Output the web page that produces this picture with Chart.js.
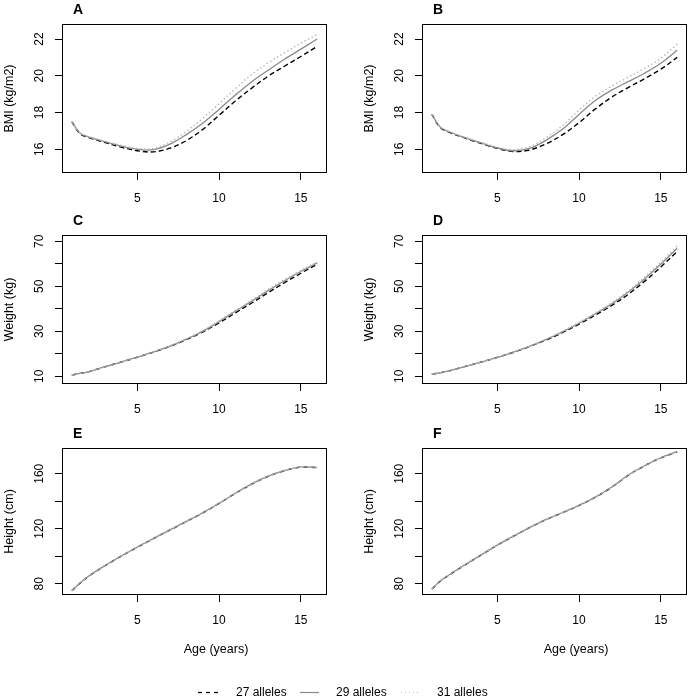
<!DOCTYPE html>
<html><head><meta charset="utf-8">
<script src="https://cdn.jsdelivr.net/npm/chart.js@4"></script>
<style>
html,body{margin:0;padding:0;background:#fff;}
#page{position:relative;width:691px;height:700px;overflow:hidden;font-family:"Liberation Sans",Arial,sans-serif;}
#page canvas{position:absolute;}
.lg{position:absolute;font-size:12px;line-height:14px;top:685px;color:#000;white-space:nowrap;}
</style></head><body>
<div id="page">
<canvas id="cA" width="345" height="210" style="left:0;top:0"></canvas>
<canvas id="cB" width="331" height="210" style="left:360px;top:0"></canvas>
<canvas id="cC" width="345" height="210" style="left:0;top:211px"></canvas>
<canvas id="cD" width="331" height="210" style="left:360px;top:211px"></canvas>
<canvas id="cE" width="345" height="252" style="left:0;top:424px"></canvas>
<canvas id="cF" width="331" height="252" style="left:360px;top:424px"></canvas>
<canvas id="cLeg" width="240" height="14" style="left:190px;top:685px"></canvas>
<span class="lg" style="left:236px">27 alleles</span>
<span class="lg" style="left:336px">29 alleles</span>
<span class="lg" style="left:437px">31 alleles</span>
</div>
<script>
// ---- data ----
const ages = [1, 1.5, 2, 3, 4, 5, 6, 7, 8, 9, 10, 11, 12, 13, 14, 15, 16];
const seriesNames = ['27 alleles', '29 alleles', '31 alleles'];
const xTicks = [5, 10, 15];

const bmiA27 = [17.5, 16.85, 16.65, 16.38, 16.12, 15.92, 15.86, 16.06, 16.47, 17.08, 17.85, 18.63, 19.33, 19.98, 20.52, 21.05, 21.6];
const bmiA29 = [17.5, 16.88, 16.68, 16.42, 16.18, 16.0, 15.98, 16.28, 16.8, 17.42, 18.17, 18.95, 19.68, 20.3, 20.9, 21.45, 22.0];
const bmiA31 = [17.5, 16.9, 16.7, 16.45, 16.22, 16.05, 16.05, 16.4, 16.98, 17.68, 18.48, 19.3, 20.08, 20.7, 21.25, 21.77, 22.25];

const bmiB27 = [17.9, 17.2, 16.95, 16.62, 16.32, 16.05, 15.88, 15.97, 16.3, 16.8, 17.45, 18.2, 18.84, 19.36, 19.84, 20.36, 21.0];
const bmiB29 = [17.9, 17.22, 16.97, 16.64, 16.35, 16.08, 15.92, 16.06, 16.5, 17.1, 17.9, 18.66, 19.22, 19.68, 20.14, 20.68, 21.4];
const bmiB31 = [17.9, 17.24, 16.99, 16.66, 16.38, 16.12, 15.98, 16.15, 16.64, 17.3, 18.14, 18.88, 19.44, 19.92, 20.4, 20.95, 21.73];

const wtC27 = [10.6, 11.3, 12.0, 14.2, 16.3, 18.5, 20.8, 23.3, 26.3, 29.7, 33.8, 38.2, 42.6, 47.2, 51.6, 55.8, 59.8];
const wtC29 = [10.6, 11.3, 12.0, 14.2, 16.3, 18.5, 20.9, 23.4, 26.5, 30.0, 34.3, 38.9, 43.4, 48.1, 52.5, 56.6, 60.4];
const wtC31 = [10.6, 11.3, 12.0, 14.2, 16.3, 18.6, 21.0, 23.5, 26.7, 30.3, 34.7, 39.3, 43.9, 48.6, 53.0, 57.0, 60.8];

const wtD27 = [11.0, 11.6, 12.3, 14.3, 16.3, 18.4, 20.7, 23.3, 26.2, 29.5, 33.2, 37.2, 41.5, 46.4, 52.2, 58.6, 65.5];
const wtD29 = [11.0, 11.6, 12.3, 14.3, 16.3, 18.4, 20.8, 23.4, 26.4, 29.8, 33.6, 37.8, 42.2, 47.4, 53.3, 59.9, 66.9];
const wtD31 = [11.0, 11.6, 12.3, 14.3, 16.3, 18.5, 20.9, 23.5, 26.6, 30.1, 34.0, 38.2, 42.7, 47.9, 54.0, 60.7, 67.9];

const htE27 = [74.9, 80.4, 85.2, 92.9, 99.9, 106.5, 112.9, 119.1, 125.2, 131.5, 138.4, 145.7, 152.5, 158.1, 162.2, 164.8, 164.5];
const htE29 = [74.9, 80.5, 85.3, 93.0, 100.0, 106.6, 113.0, 119.2, 125.3, 131.6, 138.5, 145.8, 152.6, 158.2, 162.3, 164.9, 164.6];
const htE31 = [74.9, 80.6, 85.4, 93.1, 100.1, 106.7, 113.1, 119.3, 125.4, 131.7, 138.6, 145.9, 152.7, 158.3, 162.4, 165.0, 164.7];

const htF27 = [76.1, 81.7, 85.9, 93.5, 100.8, 108.0, 114.6, 120.9, 126.7, 131.7, 136.9, 142.9, 150.2, 158.8, 165.7, 171.5, 175.9];
const htF29 = [76.1, 81.8, 86.0, 93.6, 100.9, 108.1, 114.7, 121.0, 126.8, 131.8, 137.0, 143.0, 150.3, 158.9, 165.8, 171.6, 176.0];
const htF31 = [76.1, 81.9, 86.1, 93.7, 101.0, 108.2, 114.8, 121.1, 126.9, 131.9, 137.1, 143.1, 150.4, 159.0, 165.9, 171.7, 176.2];

const bmiTicks = [16, 18, 20, 22];
const bmiLabels = [16, 18, 20, 22];
const wtTicks = [10, 20, 30, 40, 50, 60, 70];
const wtLabels = [10, 30, 50, 70];
const htTicks = [80, 100, 120, 140, 160];
const htLabels = [80, 120, 160];

// ---- styles ----
const FONT = '"Liberation Sans", Arial, Helvetica, sans-serif';
const lineStyles = [
  {color: '#000000', dash: [5, 3], width: 1.4, order: 3},
  {color: '#8a8a8a', dash: [], width: 1.3, order: 2},
  {color: '#b8b8b8', dash: [1.5, 2.5], width: 1.4, order: 1}
];

const rPlugin = {
  id: 'rstyle',
  afterDraw(chart, args, opts) {
    const {ctx, chartArea: ca} = chart;
    ctx.save();
    ctx.strokeStyle = '#000'; ctx.lineWidth = 1; ctx.setLineDash([]);
    const l = Math.round(ca.left), t = Math.round(ca.top), r = Math.round(ca.right), b = Math.round(ca.bottom);
    ctx.strokeRect(l + 0.5, t + 0.5, r - l - 1, b - t - 1);
    const ys = chart.scales.y;
    ctx.fillStyle = '#000';
    ctx.font = '12px ' + FONT;
    ctx.textAlign = 'center'; ctx.textBaseline = 'middle';
    for (const v of opts.yLabels) {
      const py = ys.getPixelForValue(v);
      ctx.save(); ctx.translate(ca.left - 22, py); ctx.rotate(-Math.PI / 2);
      ctx.fillText(String(v), 0, 0); ctx.restore();
    }
    ctx.font = 'bold 14px ' + FONT;
    ctx.textAlign = 'left';
    ctx.fillText(opts.letter, ca.left + 11, ca.top - 14);
    if (opts.xTitle) {
      ctx.font = '12.5px ' + FONT;
      ctx.textAlign = 'center';
      ctx.fillText(opts.xTitle, ca.left + 154, ca.bottom + 55);
    }
    ctx.restore();
  }
};

function panel(id, letter, yMin, yMax, yTicks, yLabels, yTitle, series, opts) {
  const el = document.getElementById(id);
  const datasets = series.map((vals, i) => ({
    label: seriesNames[i],
    data: ages.map((a, k) => ({x: a, y: vals[k]})),
    borderColor: lineStyles[i].color,
    borderDash: lineStyles[i].dash,
    borderWidth: lineStyles[i].width,
    order: lineStyles[i].order,
    pointRadius: 0,
    fill: false,
    tension: 0.35
  }));
  new Chart(el, {
    type: 'line',
    data: {datasets},
    plugins: [rPlugin],
    options: {
      responsive: false, animation: false, devicePixelRatio: 1,
      layout: {padding: {top: 24, right: opts.rightPad, left: 0, bottom: 0}},
      plugins: {
        legend: {display: false}, tooltip: {enabled: false},
        rstyle: {yLabels, letter, xTitle: opts.xTitle}
      },
      scales: {
        x: {
          type: 'linear', min: 0.4, max: 16.6,
          afterBuildTicks: s => { s.ticks = xTicks.map(v => ({value: v})); },
          afterFit: s => { s.height = opts.xAxisH; },
          grid: {drawOnChartArea: false, drawTicks: true, tickLength: 7, color: '#000', lineWidth: 1},
          border: {display: false},
          ticks: {padding: 11, color: '#000', font: {family: FONT, size: 12}, maxRotation: 0, autoSkip: false}
        },
        y: {
          type: 'linear', min: yMin, max: yMax,
          afterBuildTicks: s => { s.ticks = yTicks.map(v => ({value: v})); },
          afterFit: s => { s.width = 62; },
          grid: {drawOnChartArea: false, drawTicks: true, tickLength: 7, color: '#000', lineWidth: 1},
          border: {display: false},
          ticks: {display: false},
          title: {display: true, text: yTitle, color: '#000', padding: {top: 2, bottom: 0}, font: {family: FONT, size: 12.5}}
        }
      }
    }
  });
}

panel('cA', 'A', 14.71, 22.82, bmiTicks, bmiLabels, 'BMI (kg/m2)', [bmiA27, bmiA29, bmiA31], {rightPad: 18, xAxisH: 37});
panel('cB', 'B', 14.71, 22.82, bmiTicks, bmiLabels, 'BMI (kg/m2)', [bmiB27, bmiB29, bmiB31], {rightPad: 4, xAxisH: 37});
panel('cC', 'C', 6.6, 72.8, wtTicks, wtLabels, 'Weight (kg)', [wtC27, wtC29, wtC31], {rightPad: 18, xAxisH: 37});
panel('cD', 'D', 6.6, 72.8, wtTicks, wtLabels, 'Weight (kg)', [wtD27, wtD29, wtD31], {rightPad: 4, xAxisH: 37});
panel('cE', 'E', 71.8, 178.7, htTicks, htLabels, 'Height (cm)', [htE27, htE29, htE31], {rightPad: 18, xAxisH: 81, xTitle: 'Age (years)'});
panel('cF', 'F', 71.8, 178.7, htTicks, htLabels, 'Height (cm)', [htF27, htF29, htF31], {rightPad: 4, xAxisH: 81, xTitle: 'Age (years)'});

// legend samples
(function () {
  const c = document.getElementById('cLeg').getContext('2d');
  const y = 7.5;
  const items = [
    {x0: 8, x1: 28, s: lineStyles[0], dash: [4, 4]},
    {x0: 110, x1: 129, s: lineStyles[1], dash: []},
    {x0: 211, x1: 230, s: lineStyles[2], dash: [1, 3]}
  ];
  for (const it of items) {
    c.beginPath();
    c.strokeStyle = it.s.color; c.lineWidth = 1.2; c.setLineDash(it.dash);
    c.moveTo(it.x0, y); c.lineTo(it.x1, y); c.stroke();
  }
})();
</script>
</body></html>
